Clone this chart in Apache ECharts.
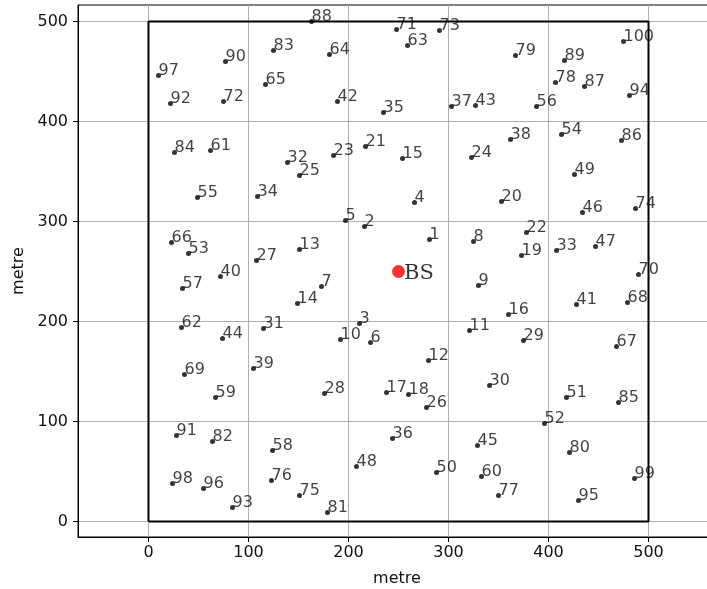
<!DOCTYPE html>
<html><head><meta charset="utf-8">
<script src="https://cdn.jsdelivr.net/npm/echarts@6/dist/echarts.min.js"></script>
<style>html,body{margin:0;padding:0;background:#fff}#c{width:707px;height:589px}</style>
</head><body><div id="c"></div>
<script>
const nodeIds = [];
for (let i = 1; i <= 100; i++) nodeIds.push(String(i));
const nodeX = [281,216,211,266,197,222,173,325,330,192,
               321,280,151,149,254,360,238,260,373,353,
               217,378,185,323,151,278,108,176,375,341,
               115,139,408,109,235,244,303,362,105,72,
               428,189,327,74,329,434,447,208,426,288,
               418,396,40,413,49,388,34,124,67,333,
               62,33,259,181,117,23,468,479,36,490,
               248,75,291,487,151,123,350,407,367,421,
               179,64,125,26,470,473,436,163,416,77,
               28,22,84,481,430,55,10,24,486,475];
const nodeY = [282,295,198,319,301,179,235,280,236,182,
               191,161,272,218,363,207,129,127,266,320,
               375,289,366,364,346,114,261,128,181,136,
               193,359,271,325,409,83,415,382,153,245,
               217,420,416,183,76,309,275,55,347,49,
               124,98,268,387,324,415,233,71,124,45,
               371,194,476,467,437,279,175,219,147,247,
               492,420,491,313,26,41,26,439,466,69,
               9,80,471,369,119,381,435,500,461,460,
               86,418,14,426,21,33,446,38,43,480];
const bsName = 'BS';
const bsX = 250, bsY = 250;
const squareX = [0, 500, 500, 0, 0];
const squareY = [0, 0, 500, 500, 0];
const xTicks = [0, 100, 200, 300, 400, 500];
const yTicks = [0, 100, 200, 300, 400, 500];
const xAxisName = 'metre';
const yAxisName = 'metre';

const FONT = 'DejaVu Sans';
const chart = echarts.init(document.getElementById('c'), null, {renderer: 'canvas'});
const nodeData = nodeX.map((x, i) => [x, nodeY[i]]);
const squareData = squareX.map((x, i) => [x, squareY[i]]);

chart.setOption({
  animation: false,
  backgroundColor: '#fff',
  grid: {left: 78, top: 5, width: 638, height: 532, show: true, borderColor: '#000', borderWidth: 1,
         backgroundColor: 'transparent', outerBoundsMode: 'none', containLabel: false},
  xAxis: {
    type: 'value', min: -70.5, max: 567.5,
    name: xAxisName, nameLocation: 'middle', nameGap: 34,
    nameTextStyle: {fontSize: 16, fontFamily: FONT, color: '#111'},
    axisLine: {show: true, onZero: false, lineStyle: {color: '#000', width: 1}},
    axisTick: {show: true, customValues: xTicks, length: 5, lineStyle: {color: '#000'}},
    axisLabel: {customValues: xTicks, fontSize: 16, fontFamily: FONT, color: '#111', margin: 8},
    splitLine: {show: true, lineStyle: {color: '#b0b0b0', width: 1}}
  },
  yAxis: {
    type: 'value', min: -15.5, max: 516.5,
    name: yAxisName, nameLocation: 'middle', nameGap: 50,
    nameTextStyle: {fontSize: 16, fontFamily: FONT, color: '#111'},
    axisLine: {show: true, onZero: false, lineStyle: {color: '#000', width: 1}},
    axisTick: {show: true, customValues: yTicks, length: 5, lineStyle: {color: '#000'}},
    axisLabel: {customValues: yTicks, fontSize: 16, fontFamily: FONT, color: '#111', margin: 10},
    splitLine: {show: true, lineStyle: {color: '#b0b0b0', width: 1}}
  },
  series: [
    {
      type: 'line', data: squareData, showSymbol: false, silent: true, z: 2,
      lineStyle: {color: '#000', width: 2}
    },
    {
      type: 'scatter', data: nodeData, symbol: 'circle', symbolSize: 5, z: 3,
      itemStyle: {color: '#000'},
      label: {
        show: true, formatter: p => nodeIds[p.dataIndex],
        position: [2.5, 2.5], align: 'left', verticalAlign: 'bottom', offset: [0, 3],
        fontSize: 16, fontFamily: FONT, color: '#111'
      }
    },
    {
      type: 'scatter', data: [[bsX, bsY]], symbol: 'circle', symbolSize: 13, z: 4,
      itemStyle: {color: '#ff0000'},
      label: {
        show: true, formatter: bsName, position: 'right', distance: -1, offset: [0, 2],
        fontSize: 21, fontFamily: 'DejaVu Serif', color: '#000'
      }
    }
  ]
});
</script>
</body></html>
